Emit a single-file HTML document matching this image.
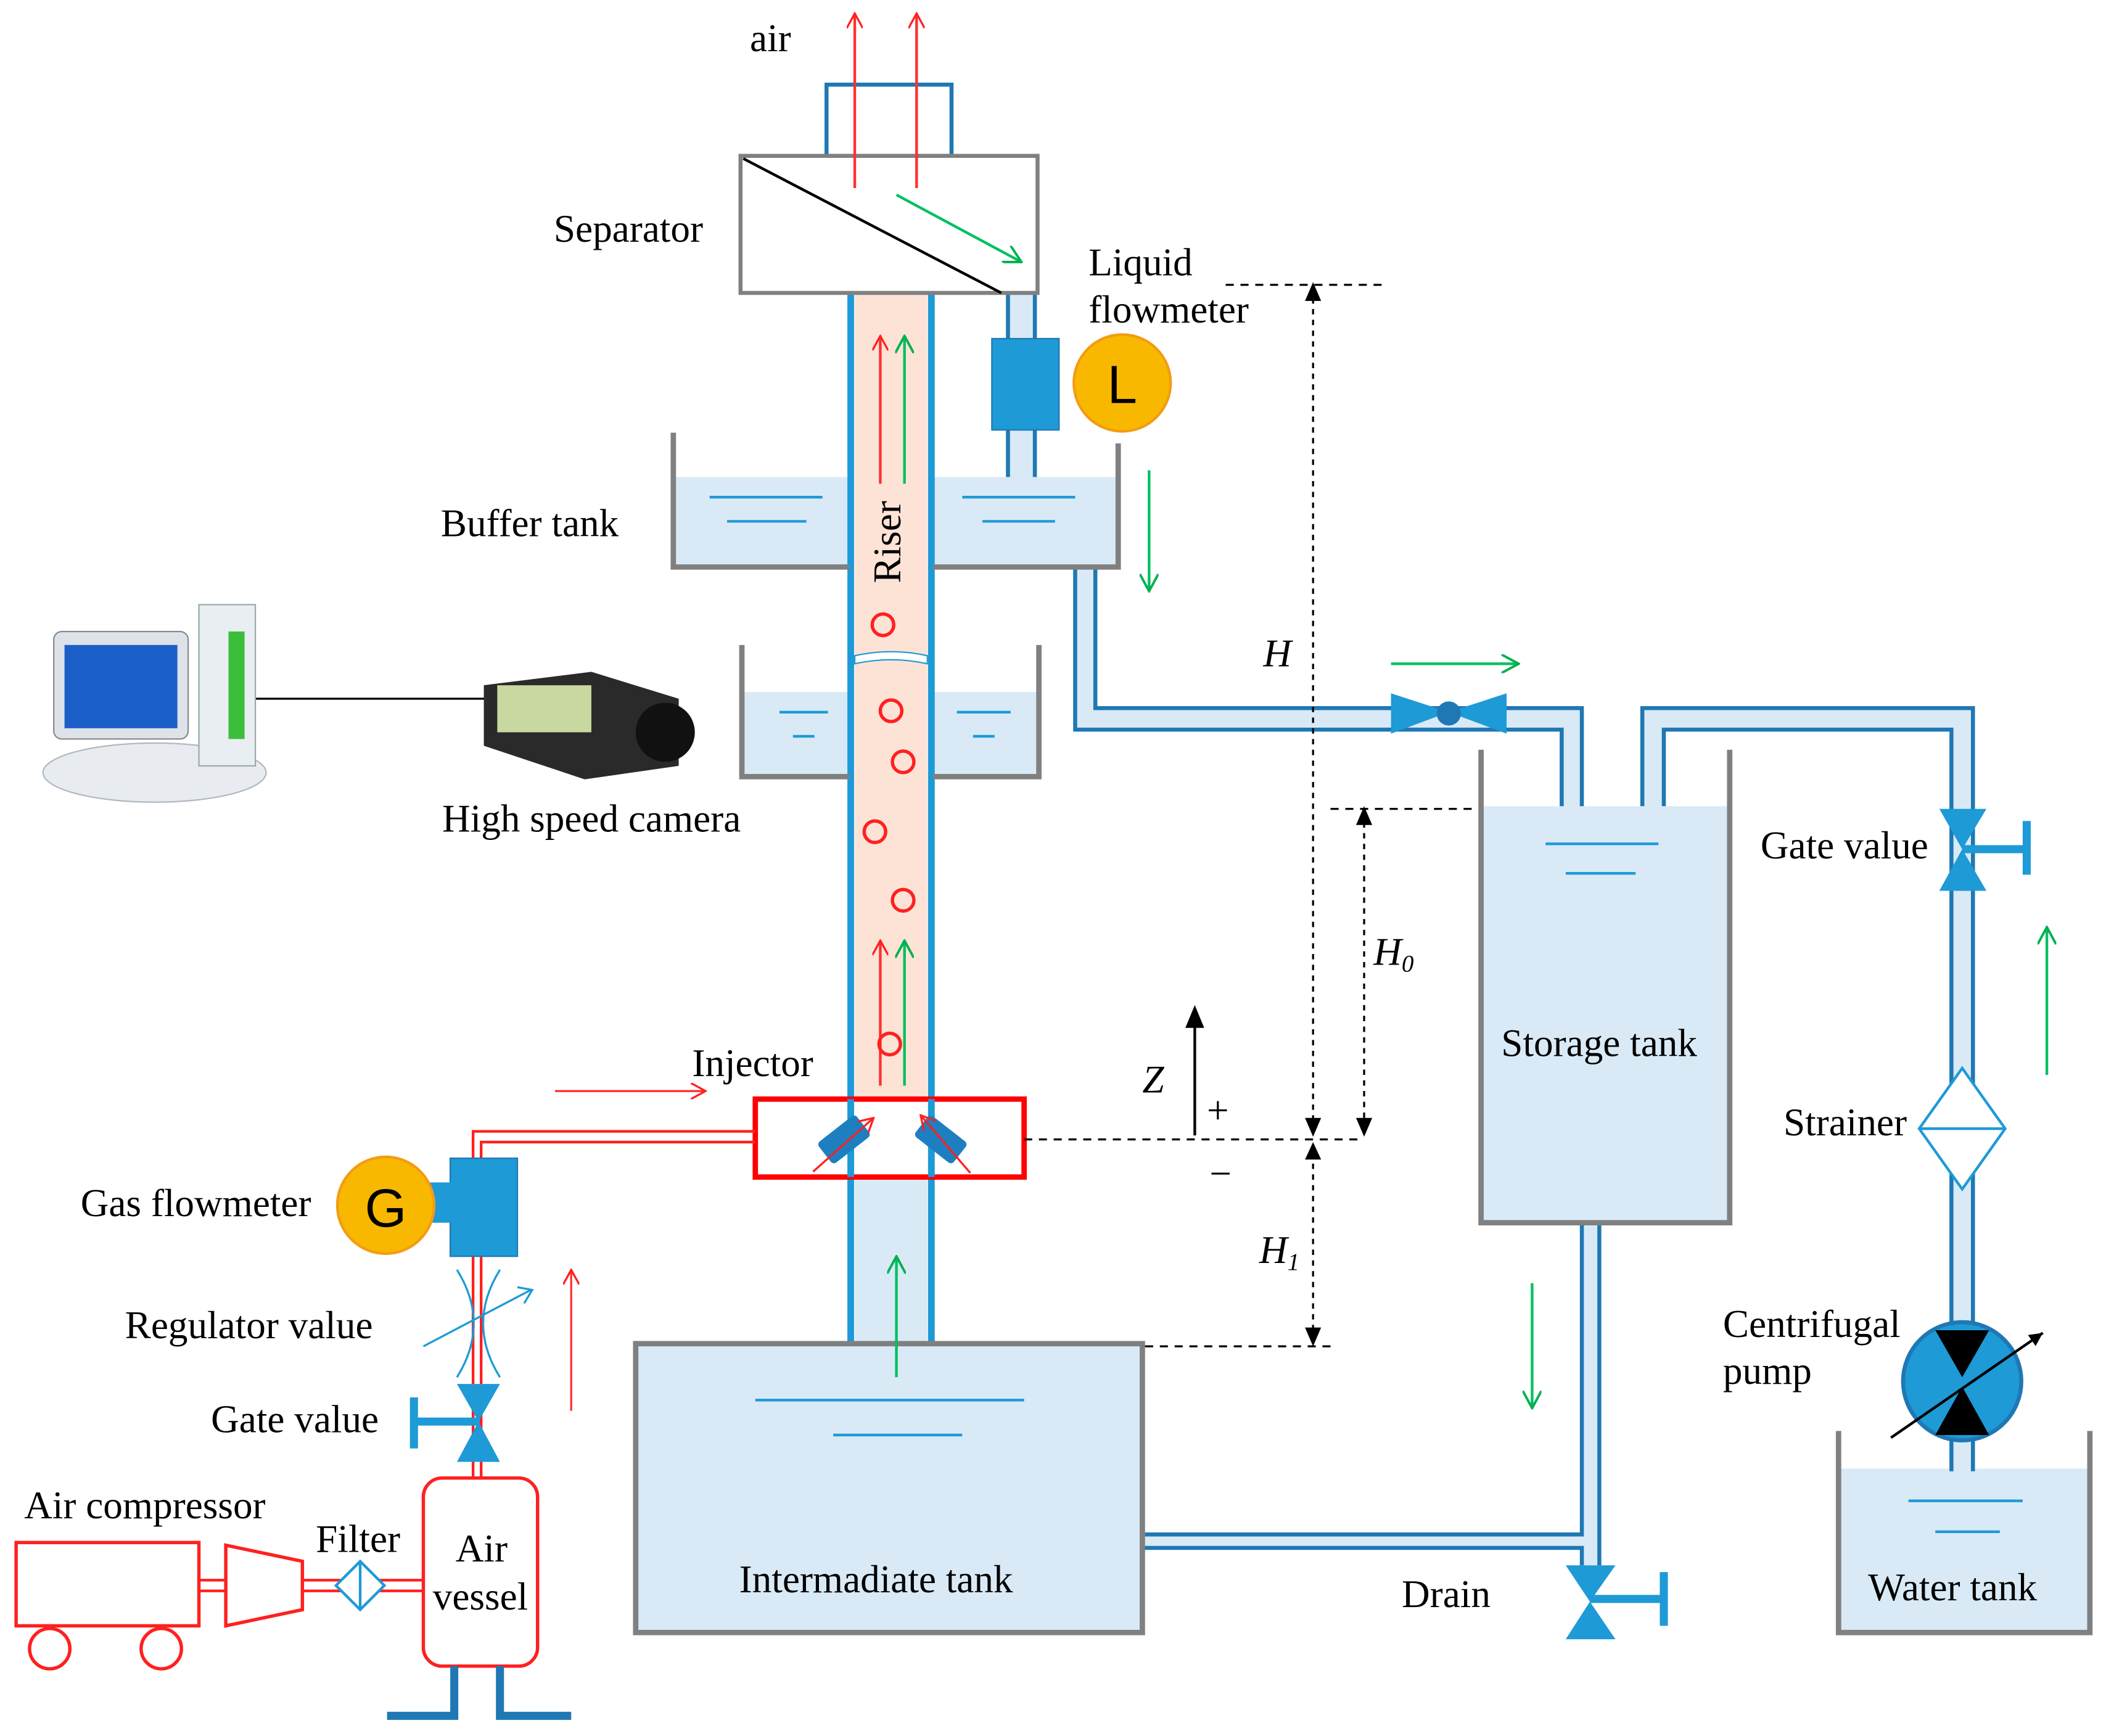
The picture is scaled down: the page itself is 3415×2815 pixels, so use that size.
<!DOCTYPE html><html><head><style>html,body{margin:0;padding:0;background:#fff}svg{display:block}text{font-family:"Liberation Serif",serif;font-size:29px;fill:#000}</style></head><body>
<svg width="3415" height="2815" viewBox="0 0 1567 1292" preserveAspectRatio="none" xmlns="http://www.w3.org/2000/svg">
<defs>
<marker id="ar" markerWidth="12" markerHeight="12" refX="11" refY="6" orient="auto" markerUnits="userSpaceOnUse"><path d="M0,0 L11,6 L0,12" fill="none" stroke="#ff2020" stroke-width="1.5"/></marker>
<marker id="ag" markerWidth="14" markerHeight="14" refX="13" refY="7" orient="auto" markerUnits="userSpaceOnUse"><path d="M0,0 L13,7 L0,14" fill="none" stroke="#00b050" stroke-width="1.8"/></marker>
<marker id="ak" markerWidth="10" markerHeight="12" refX="10" refY="5" orient="auto" markerUnits="userSpaceOnUse"><path d="M0,0 L10,5 L0,10z" fill="#000"/></marker>
</defs>
<g fill="#d9eaf6" stroke="none">
<rect x="636" y="876" width="54" height="124"/>
<rect x="501" y="355" width="131" height="67"/><rect x="694" y="355" width="138" height="67"/>
<rect x="552" y="515" width="80" height="63"/><rect x="694" y="515" width="79" height="63"/>
<rect x="473" y="1000" width="377" height="215"/>
<rect x="1102" y="600" width="185" height="310"/>
<rect x="1368" y="1093" width="187" height="122"/>
<rect x="750" y="218" width="20" height="137"/>
<rect x="800" y="422" width="15" height="115"/><rect x="800" y="527" width="372" height="16"/><rect x="1162" y="527" width="15" height="73"/>
<rect x="1222" y="527" width="246" height="16"/><rect x="1222" y="527" width="16" height="73"/><rect x="1452" y="527" width="16" height="568"/>
<rect x="1177" y="910" width="13" height="255"/><rect x="850" y="1142" width="333" height="10"/>
</g>
<rect x="636" y="218" width="54" height="600" fill="#fde3d6"/>
<g stroke="#1f78b4" stroke-width="3" fill="none">
<path d="M750,218V355M770,218V355"/>
<path d="M800,422V543H1162V600M815,422V527H1177V600"/>
<path d="M1222,600V527H1468V1095M1238,600V543H1452V1095"/>
<path d="M1177,910V1142H850M1190,910V1165M850,1152H1177V1165"/>
</g>
<g stroke="#1e9ad6" stroke-width="5"><path d="M633,218V1000M693,218V1000"/></g>
<g stroke="#808080" stroke-width="4" fill="none">
<path d="M501,322V422H632M832,330V422H694"/>
<path d="M552,480V578H632M773,480V578H694"/>
<rect x="473" y="1000" width="377" height="215"/>
<path d="M1102,558V910H1287V558"/>
<path d="M1368,1065V1215H1555V1065"/>
</g>
<g stroke="#1e9ad6" stroke-width="2">
<path d="M528,370H612M541,388H600M716,370H800M731,388H785M580,530H616M590,548H606M712,530H752M724,548H740M562,1042H762M620,1068H716M1150,628H1234M1165,650H1217M1420,1117H1505M1440,1140H1488"/>
</g>
<rect x="615" y="63" width="93" height="53" fill="none" stroke="#1f78b4" stroke-width="3"/>
<rect x="551" y="116" width="221" height="102" fill="#fff" stroke="#808080" stroke-width="3"/>
<path d="M553,118L745,218" stroke="#000" stroke-width="2"/>
<g stroke="#ff3030" stroke-width="2" fill="none">
<path d="M636,140V10" marker-end="url(#ar)"/><path d="M682,140V10" marker-end="url(#ar)"/>
<path d="M655,360V250" marker-end="url(#ar)"/><path d="M655,808V700" marker-end="url(#ar)"/>
</g>
<g stroke="#ff3030" stroke-width="1.5" fill="none">
<path d="M425,1050V945" marker-end="url(#ar)"/><path d="M413,812H525" marker-end="url(#ar)"/>
</g>
<g stroke="#00c060" stroke-width="2" fill="none">
<path d="M667,145L760,195" marker-end="url(#ag)"/>
<path d="M673,360V250" marker-end="url(#ag)"/><path d="M673,808V700" marker-end="url(#ag)"/>
<path d="M667,1025V935" marker-end="url(#ag)"/><path d="M855,350V440" marker-end="url(#ag)"/>
<path d="M1035,494H1130" marker-end="url(#ag)"/><path d="M1140,955V1048" marker-end="url(#ag)"/>
<path d="M1523,800V690" marker-end="url(#ag)"/>
</g>
<rect x="738" y="252" width="50" height="68" fill="#1e9ad6" stroke="#1f78b4"/>
<circle cx="835" cy="285" r="36" fill="#f9b800" stroke="#f39c12" stroke-width="2"/>
<text x="835" y="300" text-anchor="middle" style="font-family:'Liberation Sans',sans-serif;font-size:40px">L</text>
<g fill="none" stroke="#ff2020" stroke-width="2.5">
<circle cx="657" cy="465" r="8"/><circle cx="663" cy="529" r="8"/><circle cx="672" cy="567" r="8"/><circle cx="651" cy="619" r="8"/><circle cx="672" cy="670" r="8"/><circle cx="662" cy="777" r="8"/>
</g>
<path d="M636,488Q663,482 690,488V494Q663,488 636,494Z" fill="#fff" stroke="#1e9ad6"/>
<text transform="translate(670,434) rotate(-90)">Riser</text>
<rect x="562" y="818" width="200" height="58" fill="#fff" stroke="#ff0000" stroke-width="4"/>
<path d="M633,818V876M693,818V876" stroke="#1e9ad6" stroke-width="5"/>
<rect x="610" y="838" width="36" height="20" rx="3" fill="#1e7fc0" transform="rotate(-38 628 848)"/>
<rect x="682" y="838" width="36" height="20" rx="3" fill="#1e7fc0" transform="rotate(38 700 848)"/>
<g stroke="#ff2020" stroke-width="1.5" fill="none"><path d="M605,872L650,832" marker-end="url(#ar)"/><path d="M722,873L685,830" marker-end="url(#ar)"/></g>
<g stroke="#ff2020" stroke-width="2" fill="none"><path d="M562,842H352V862M562,850H358V862"/><path d="M352,935V1100M358,935V1100"/><path d="M148,1176H168M148,1184H168M225,1176H315M225,1184H315"/></g>
<rect x="335" y="862" width="50" height="73" fill="#1e9ad6" stroke="#1f78b4"/>
<rect x="320" y="880" width="18" height="30" fill="#1e9ad6"/>
<circle cx="287" cy="897" r="36" fill="#f9b800" stroke="#f39c12" stroke-width="2"/>
<text x="287" y="913" text-anchor="middle" style="font-family:'Liberation Sans',sans-serif;font-size:40px">G</text>
<g stroke="#1e9ad6" stroke-width="1.5" fill="none"><path d="M340,945Q365,985 340,1025M372,945Q347,985 372,1025"/><path d="M315,1002L395,960"/><path d="M385,958L396,960L390,970"/></g>
<g fill="#1e9ad6"><path d="M340,1030H372L356,1058ZM340,1088H372L356,1058Z"/><rect x="307" y="1055" width="50" height="6"/><rect x="305" y="1040" width="6" height="38"/></g>
<rect x="315" y="1100" width="85" height="140" rx="14" fill="#fff" stroke="#ff2020" stroke-width="2.5"/>
<g stroke="#1f78b4" stroke-width="6" fill="none"><path d="M338,1240V1277H288M372,1240V1277H425"/></g>
<rect x="12" y="1148" width="136" height="62" fill="#fff" stroke="#ff2020" stroke-width="2.5"/>
<circle cx="37" cy="1227" r="15" fill="#fff" stroke="#ff2020" stroke-width="2.5"/><circle cx="120" cy="1227" r="15" fill="#fff" stroke="#ff2020" stroke-width="2.5"/>
<path d="M168,1150L225,1162V1198L168,1210Z" fill="#fff" stroke="#ff2020" stroke-width="2.5"/>
<path d="M268,1162L286,1180L268,1198L250,1180Z M268,1162V1198" fill="#fff" stroke="#1e9ad6" stroke-width="2"/>
<g fill="#1e9ad6"><path d="M1035,516L1078,530L1035,546ZM1121,516L1078,530L1121,546Z"/><circle cx="1078" cy="531" r="9" fill="#1f78b4"/></g>
<g fill="#1e9ad6"><path d="M1443,602H1478L1460,632ZM1443,663H1478L1460,632Z"/><rect x="1460" y="629" width="50" height="6"/><rect x="1505" y="611" width="6" height="40"/></g>
<path d="M1460,795L1492,840L1460,885L1428,840ZM1428,840H1492" fill="#fff" stroke="#1e9ad6" stroke-width="2"/>
<circle cx="1460" cy="1028" r="44" fill="#1e9ad6" stroke="#1f78b4" stroke-width="3"/>
<path d="M1440,990H1480L1460,1025ZM1440,1068H1480L1460,1032Z" fill="#000"/>
<path d="M1407,1070L1520,992" stroke="#000" stroke-width="2" marker-end="url(#ak)"/>
<g fill="#1e9ad6"><path d="M1165,1165H1202L1183,1192ZM1165,1220H1202L1183,1192Z"/><rect x="1183" y="1187" width="55" height="6"/><rect x="1235" y="1170" width="6" height="40"/></g>
<g stroke="#000" stroke-width="1.5" stroke-dasharray="6,5" fill="none">
<path d="M912,212H1033M762,848H1015M852,1002H990M990,602H1100"/>
</g>
<g stroke="#000" stroke-width="1.5" stroke-dasharray="4,4"><path d="M977,222V836M977,858V990M1015,612V836"/></g>
<g fill="#000"><path d="M971,224L977,210L983,224ZM971,832L977,846L983,832ZM971,863L977,850L983,863ZM971,988L977,1002L983,988ZM1009,614L1015,600L1021,614ZM1009,832L1015,846L1021,832Z"/></g>
<path d="M889,845V762" stroke="#000" stroke-width="2"/><path d="M882,765L889,748L896,765Z" fill="#000"/>
<path d="M185,520H362" stroke="#000" stroke-width="1.5"/>
<ellipse cx="115" cy="575" rx="83" ry="22" fill="#e8ecf0" stroke="#b0b8c0"/>
<rect x="148" y="450" width="42" height="120" fill="#e9eef2" stroke="#9aa"/><rect x="170" y="470" width="12" height="80" fill="#3bbf3b"/>
<rect x="40" y="470" width="100" height="80" rx="6" fill="#dde3e8" stroke="#888"/><rect x="48" y="480" width="84" height="62" fill="#1d5fc8"/>
<path d="M360,510L440,500L505,520L505,570L435,580L360,555Z" fill="#2a2a2a"/><rect x="370" y="510" width="70" height="35" fill="#c8d8a0"/>
<circle cx="495" cy="545" r="22" fill="#111"/>
<text x="558" y="38">air</text>
<text x="412" y="180">Separator</text>
<text x="810" y="205">Liquid</text><text x="810" y="240">flowmeter</text>
<text x="328" y="399">Buffer tank</text>
<text x="329" y="619">High speed camera</text>
<text x="940" y="496" style="font-style:italic">H</text>
<text x="1022" y="718" style="font-style:italic">H<tspan font-size="18" dy="5">0</tspan></text>
<text x="937" y="940" style="font-style:italic">H<tspan font-size="18" dy="5">1</tspan></text>
<text x="850" y="813" style="font-style:italic">Z</text>
<text x="898" y="836">+</text><text x="900" y="883">−</text>
<text x="515" y="801">Injector</text>
<text x="60" y="905">Gas flowmeter</text>
<text x="93" y="996">Regulator value</text>
<text x="157" y="1066">Gate value</text>
<text x="18" y="1130">Air compressor</text>
<text x="235" y="1155">Filter</text>
<text x="339" y="1162">Air</text><text x="322" y="1198">vessel</text>
<text x="550" y="1185">Intermadiate tank</text>
<text x="1043" y="1196">Drain</text>
<text x="1117" y="786">Storage tank</text>
<text x="1310" y="639">Gate value</text>
<text x="1327" y="845">Strainer</text>
<text x="1282" y="995">Centrifugal</text><text x="1282" y="1030">pump</text>
<text x="1390" y="1191">Water tank</text>
</svg></body></html>
